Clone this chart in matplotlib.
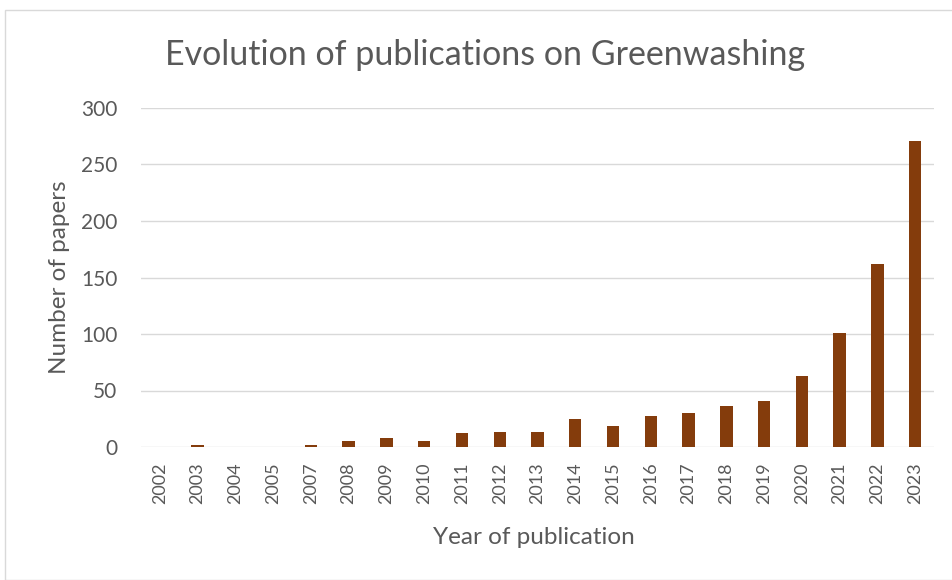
"""
Bar chart of greenwashing publications per year
"""

import matplotlib.pyplot as plt
from matplotlib.patches import Rectangle

# Publication counts per year
years = ['2002', '2003', '2004', '2005', '2007', '2008', '2009', '2010', '2011',
         '2012', '2013', '2014', '2015', '2016', '2017', '2018', '2019', '2020',
         '2021', '2022', '2023']
papers = [0, 2, 0, 0, 2, 5, 8, 5, 12, 13, 13, 25, 19, 27, 30, 36, 41, 63, 101, 162, 271]
yticks = [0, 50, 100, 150, 200, 250, 300]

plt.rcParams['font.family'] = ['Lato', 'DejaVu Sans']
text_color = '#595959'

fig = plt.figure(figsize=(9.53, 5.80), dpi=100)

# Light frame around the chart area
fig.patches.append(Rectangle((5 / 953, 0.0), 1.0, 1 - 10 / 580, transform=fig.transFigure,
                             fill=False, edgecolor='#D9D9D9', linewidth=1))

ax = fig.add_axes([141 / 953, 1 - 447 / 580, (934 - 141) / 953, (447 - 108) / 580])

x = range(len(years))
ax.bar(x, papers, width=0.33, color='#843C0C', zorder=3)

ax.set_xlim(-0.5, len(years) - 0.5)
ax.set_ylim(0, 300)
ax.set_yticks(yticks)
ax.set_xticks(list(x))
ax.set_xticklabels(years, rotation=90)

# Horizontal gridlines only, no spines
ax.grid(axis='y', color='#D9D9D9', linewidth=1, zorder=0)
for s in ax.spines.values():
    s.set_visible(False)
ax.tick_params(axis='both', length=0, colors=text_color)
ax.tick_params(axis='y', pad=17, labelsize=15)
ax.tick_params(axis='x', pad=11, labelsize=13)

ax.set_xlabel('Year of publication', color=text_color, fontsize=17.5)
ax.set_ylabel('Number of papers', color=text_color, fontsize=17.5)
ax.xaxis.label.set_va('center')
ax.yaxis.label.set_va('center')
ax.xaxis.set_label_coords(0.5 - 4 / 793, -91 / 339)
ax.yaxis.set_label_coords(-81 / 793, 0.5)

fig.text(485 / 953, 1 - 55 / 580, 'Evolution of publications on Greenwashing',
         ha='center', va='center', color=text_color, fontsize=24.5)

fig.savefig('out.png', dpi=100)
